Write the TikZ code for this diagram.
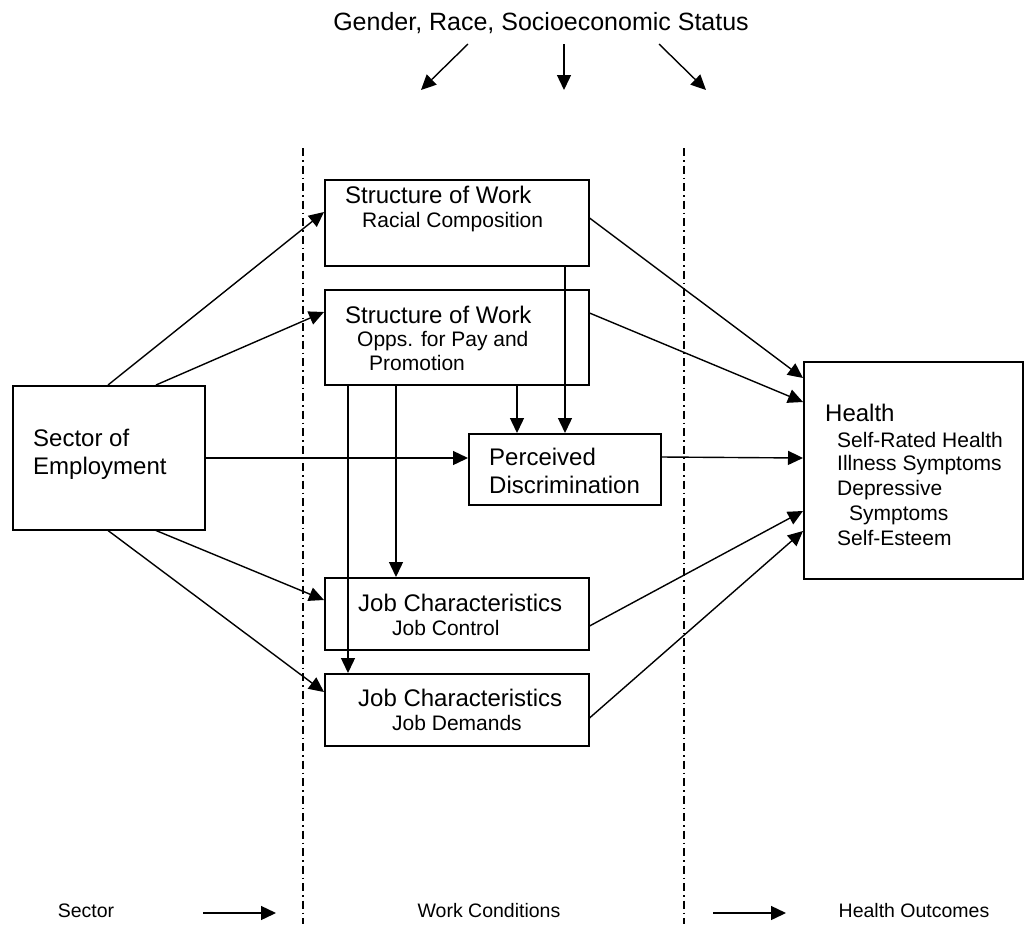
\documentclass[tikz,border=0pt]{standalone}
\usepackage{fontspec}
\setmainfont{Liberation Sans}
\usetikzlibrary{arrows.meta}
\begin{document}
\begin{tikzpicture}[x=1pt,y=-1pt,
  box/.style={draw,line width=1.5pt,rectangle,inner sep=0pt,anchor=north west},
  arr/.style={line width=1.4pt,-{Triangle[length=15pt,width=14pt]}},
  divider/.style={line width=1.4pt,dash pattern=on 8pt off 4pt on 1.5pt off 4pt},
  txt/.style={anchor=base west,inner sep=0pt},
  big/.style={txt,font=\fontsize{24}{28}\selectfont},
  small/.style={txt,font=\fontsize{21}{24}\selectfont},
  foot/.style={anchor=base,inner sep=0pt,font=\fontsize{19.5}{22}\selectfont}]
\useasboundingbox (0,0) rectangle (1036,924);

% column dividers
\draw[divider] (303,148) -- (303,924);
\draw[divider] (684,148) -- (684,924);

% moderators on top
\node[anchor=base,inner sep=0pt,font=\fontsize{25}{29}\selectfont] (mod) at (541,30) {Gender, Race, Socioeconomic Status};
\coordinate (m1s) at (468,44); \coordinate (m1e) at (421,90);
\coordinate (m2s) at (564,44); \coordinate (m2e) at (564,90);
\coordinate (m3s) at (659,44); \coordinate (m3e) at (706,90);
\draw[arr] (m1s) -- (m1e);
\draw[arr] (m2s) -- (m2e);
\draw[arr] (m3s) -- (m3e);

% boxes
\node[box,minimum width=192pt,minimum height=144pt] (se) at (12,385) {};
\node[box,minimum width=264pt,minimum height=86pt] (rc) at (324,179) {};
\node[box,minimum width=264pt,minimum height=95pt] (op) at (324,289) {};
\node[box,minimum width=192pt,minimum height=71pt] (pd) at (468,433) {};
\node[box,minimum width=264pt,minimum height=72pt] (jc) at (324,577) {};
\node[box,minimum width=264pt,minimum height=72pt] (jd) at (324,673) {};
\node[box,minimum width=219pt,minimum height=217pt] (he) at (803,361) {};

% box texts
\node[big] (seT1) at (33,446) {Sector of};
\node[big] (seT2) at (33,474) {Employment};
\node[big] (rcT1) at (345,203) {Structure of Work};
\node[small] (rcT2) at (362,227) {Racial Composition};
\node[big] (opT1) at (345,323) {Structure of Work};
\node[small] (opT2) at (357,346) {Opps. for Pay and};
\node[small] (opT3) at (369,370) {Promotion};
\node[big] (pdT1) at (489,465) {Perceived};
\node[big] (pdT2) at (489,493) {Discrimination};
\node[big] (jcT1) at (358,611) {Job Characteristics};
\node[small] (jcT2) at (392,635) {Job Control};
\node[big] (jdT1) at (358,706) {Job Characteristics};
\node[small] (jdT2) at (392,730) {Job Demands};
\node[big] (heT1) at (825,421) {Health};
\node[small] (heT2) at (837,447) {Self-Rated Health};
\node[small] (heT3) at (837,470) {Illness Symptoms};
\node[small] (heT4) at (837,495) {Depressive};
\node[small] (heT5) at (849,520) {Symptoms};
\node[small] (heT6) at (837,545) {Self-Esteem};

% sector -> work conditions
\draw[arr] ([xshift=96pt]se.north west) -- ([yshift=-33pt]rc.north west);
\draw[arr] ([xshift=144pt]se.north west) -- ([yshift=-23pt]op.north west);
\draw[arr] ([yshift=-73pt]se.north east) -- ([yshift=-25pt]pd.north west);
\draw[arr] ([xshift=144pt]se.south west) -- ([yshift=-23pt]jc.north west);
\draw[arr] ([xshift=96pt]se.south west) -- ([yshift=-19pt]jd.north west);

% structure of work -> perceived discrimination / job characteristics
\coordinate (x1) at ([xshift=97pt]pd.north west);
\coordinate (x2) at ([xshift=49pt]pd.north west);
\coordinate (x3) at ([xshift=72pt]jc.north west);
\coordinate (x4) at ([xshift=24pt]jd.north west);
\draw[arr] (x1 |- rc.south) -- (x1);
\draw[arr] (x2 |- op.south) -- (x2);
\draw[arr] (x3 |- op.south) -- (x3);
\draw[arr] (x4 |- op.south) -- (x4);

% work conditions -> health
\draw[arr] ([yshift=-39pt]rc.north east) -- ([yshift=-17pt]he.north west);
\draw[arr] ([yshift=-24pt]op.north east) -- ([yshift=-41pt]he.north west);
\draw[arr] ([yshift=-24pt]pd.north east) -- ([yshift=-97pt]he.north west);
\draw[arr] ([yshift=-49pt]jc.north east) -- ([yshift=-150pt]he.north west);
\draw[arr] ([yshift=-45pt]jd.north east) -- ([yshift=-170pt]he.north west);

% stage labels at the bottom
\node[foot] (lab1) at (86,917) {Sector};
\node[foot] (lab2) at (489,917) {Work Conditions};
\node[foot] (lab3) at (914,917) {Health Outcomes};
\coordinate (b1s) at (203,913); \coordinate (b1e) at (276,913);
\coordinate (b2s) at (713,913); \coordinate (b2e) at (786,913);
\draw[arr] (b1s) -- (b1e);
\draw[arr] (b2s) -- (b2e);
\end{tikzpicture}
\end{document}
